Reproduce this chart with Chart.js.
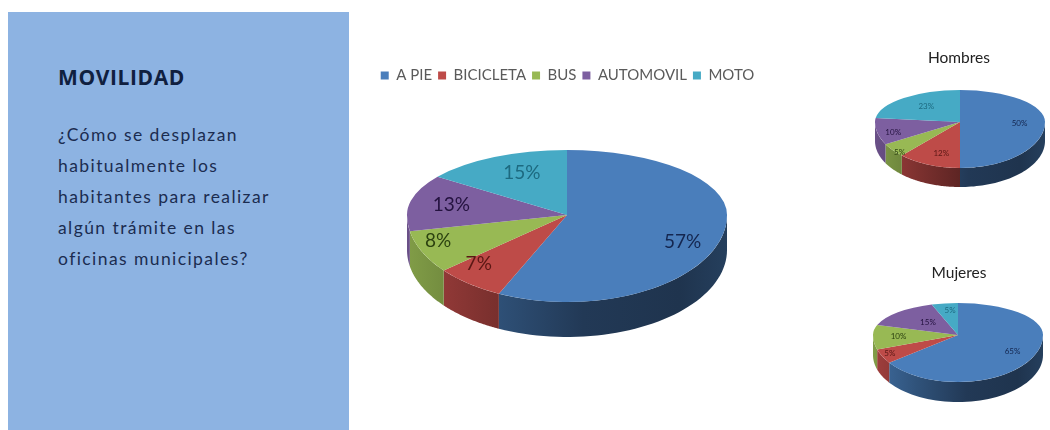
<!DOCTYPE html>
<html lang="es"><head><meta charset="utf-8">
<script src="https://cdn.jsdelivr.net/npm/chart.js@4"></script>
<style>
html,body{margin:0;padding:0;background:#fff;width:1050px;height:430px;overflow:hidden}
#stage{position:absolute;left:0;top:0;width:1050px;height:430px;filter:blur(.55px)}
#panel{position:absolute;left:8px;top:12px;width:341px;height:418px;background:#8db3e2}
#heading{position:absolute;left:58px;top:63px;font:bold 21px "Open Sans",sans-serif;letter-spacing:.6px;color:#10203f;white-space:nowrap}
#body{position:absolute;left:58px;top:119px;font:17.5px/31px Lato,sans-serif;letter-spacing:1.42px;color:#1b2c50;white-space:nowrap}
canvas{position:absolute}
</style></head><body>
<div id="stage">
<div id="panel"></div><div id="heading"></div><div id="body"></div>
<canvas id="main" style="left:370px;top:62px;width:395px;height:288px" width="395" height="288"></canvas>
<canvas id="men" style="left:868px;top:44px;width:182px;height:152px" width="182" height="152"></canvas>
<canvas id="women" style="left:868px;top:259px;width:182px;height:152px" width="182" height="152"></canvas>
</div>
<script>
const categories = ["A PIE","BICICLETA","BUS","AUTOMOVIL","MOTO"];
const totalValues = [57,7,8,13,15];
const menValues = [50,12,5,10,23];
const womenValues = [65,5,10,15,5];
const menTitle = "Hombres";
const womenTitle = "Mujeres";
const headingText = "MOVILIDAD";
const bodyLines = ["¿Cómo se desplazan","habitualmente los","habitantes para realizar","algún trámite en las","oficinas municipales?"];
const sliceColors = ["#4a7ebb","#be4b48","#98b954","#7d5fa0","#46aac5"];
const labelColors = ["#14264f","#5a1714","#2c4210","#24123f","#1d6a80"];

document.getElementById('heading').textContent = headingText;
document.getElementById('body').innerHTML = bodyLines.join('<br>');

function shade(hex,f){
  const n=parseInt(hex.slice(1),16);
  return `rgb(${(n>>16&255)*f|0},${(n>>8&255)*f|0},${(n&255)*f|0})`;
}
// tilted-pie look: squashes the library's arcs and extrudes their front edge
const tilt3d = {
  id:'tilt3d',
  beforeDatasetsDraw(chart,_,o){
    const ctx=chart.ctx, arcs=chart.getDatasetMeta(0).data;
    const R=arcs[0].outerRadius, c0x=arcs[0].x, c0y=arcs[0].y;
    const sx=o.rx/R, st=o.top/R, sb=o.bottom/R;
    const place=(s)=>{ctx.translate(o.cx,o.cy);ctx.scale(sx,s);ctx.translate(-c0x,-c0y);};
    // side wall
    arcs.forEach((a,i)=>{
      const from=Math.max(((a.startAngle%(2*Math.PI))+2*Math.PI)%(2*Math.PI),0);
      const span=a.endAngle-a.startAngle;
      const segs=[];
      for(const k of [0,2*Math.PI]){
        const s=Math.max(from,k), e=Math.min(from+span,k+Math.PI);
        if(e>s) segs.push([s,e]);
      }
      segs.forEach(([s,e])=>{
        const g=ctx.createLinearGradient(o.cx-o.rx,0,o.cx+o.rx,0);
        const c=sliceColors[i];
        g.addColorStop(0,shade(c,.85));g.addColorStop(.25,shade(c,.66));
        g.addColorStop(.55,shade(c,.46));g.addColorStop(.85,shade(c,.42));g.addColorStop(1,shade(c,.5));
        ctx.beginPath();
        const n=48;
        for(let j=0;j<=n;j++){const t=s+(e-s)*j/n;
          const x=o.cx+o.rx*Math.cos(t),y=o.cy+o.bottom*Math.sin(t);
          j?ctx.lineTo(x,y):ctx.moveTo(x,y);}
        for(let j=n;j>=0;j--){const t=s+(e-s)*j/n;
          ctx.lineTo(o.cx+o.rx*Math.cos(t),o.cy+o.bottom*Math.sin(t)+o.depth);}
        ctx.closePath();ctx.fillStyle=g;ctx.fill();
      });
    });
    // front half of the top face
    ctx.save();
    ctx.beginPath();ctx.rect(0,o.cy-.5,chart.width,chart.height);ctx.clip();
    place(sb);
    arcs.forEach(a=>a.draw(ctx));
    ctx.restore();
    // back half: library's own dataset pass
    ctx.save();
    ctx.beginPath();ctx.rect(0,0,chart.width,o.cy);ctx.clip();
    place(st);
  },
  afterDatasetsDraw(chart,_,o){
    const ctx=chart.ctx, ds=chart.data.datasets[0], arcs=chart.getDatasetMeta(0).data;
    ctx.restore();
    ctx.font=o.font;ctx.textAlign='center';ctx.textBaseline='middle';
    arcs.forEach((a,i)=>{
      const mid=(a.startAngle+a.endAngle)/2, f=o.labelRadius[i];
      const x=o.cx+o.rx*f*Math.cos(mid);
      const up=Math.sin(mid)<0;
      const y=o.cy+(up?o.top:o.bottom)*f*Math.sin(mid)+o.labelDrop[i];
      ctx.fillStyle=labelColors[i];
      ctx.fillText(ds.data[i]+'%',x,y);
    });
  }
};
function makePie(id,values,geo,extra){
  return new Chart(document.getElementById(id),{
    type:'pie',
    plugins:[tilt3d],
    data:{labels:categories,datasets:[{data:values,backgroundColor:sliceColors,borderWidth:0,clip:false}]},
    options:{responsive:false,animation:false,
      plugins:Object.assign({legend:{display:false},tooltip:{enabled:false},tilt3d:geo},extra)}
  });
}
makePie('main',totalValues,{cx:197,cy:153,rx:160,top:65,bottom:87,depth:35,font:'19px Lato,sans-serif',
  labelRadius:[.74,.9,.89,.74,.62],labelDrop:[13,-13,-7,0,-6]},
 {legend:{display:true,position:'top',labels:{boxWidth:8,boxHeight:8,padding:6,color:'#5a5a5a',font:{family:'Lato,sans-serif',size:15}}}});
makePie('men',menValues,{cx:92,cy:78,rx:85,top:32,bottom:46,depth:19,font:'8px Lato,sans-serif',
  labelRadius:[.7,.6,.9,.8,.6],labelDrop:[1,6,5,4,-1]},
 {title:{display:true,text:menTitle,color:'#222',font:{family:'Lato,sans-serif',size:15.5,weight:'normal'},padding:{top:5,bottom:0}}});
makePie('women',womenValues,{cx:90,cy:76,rx:85,top:32,bottom:47,depth:20,font:'8px Lato,sans-serif',
  labelRadius:[.72,.9,.7,.5,.6],labelDrop:[1,-1,1,-1,-6]},
 {title:{display:true,text:womenTitle,color:'#222',font:{family:'Lato,sans-serif',size:15.5,weight:'normal'},padding:{top:5,bottom:0}}});
</script>
</body></html>
